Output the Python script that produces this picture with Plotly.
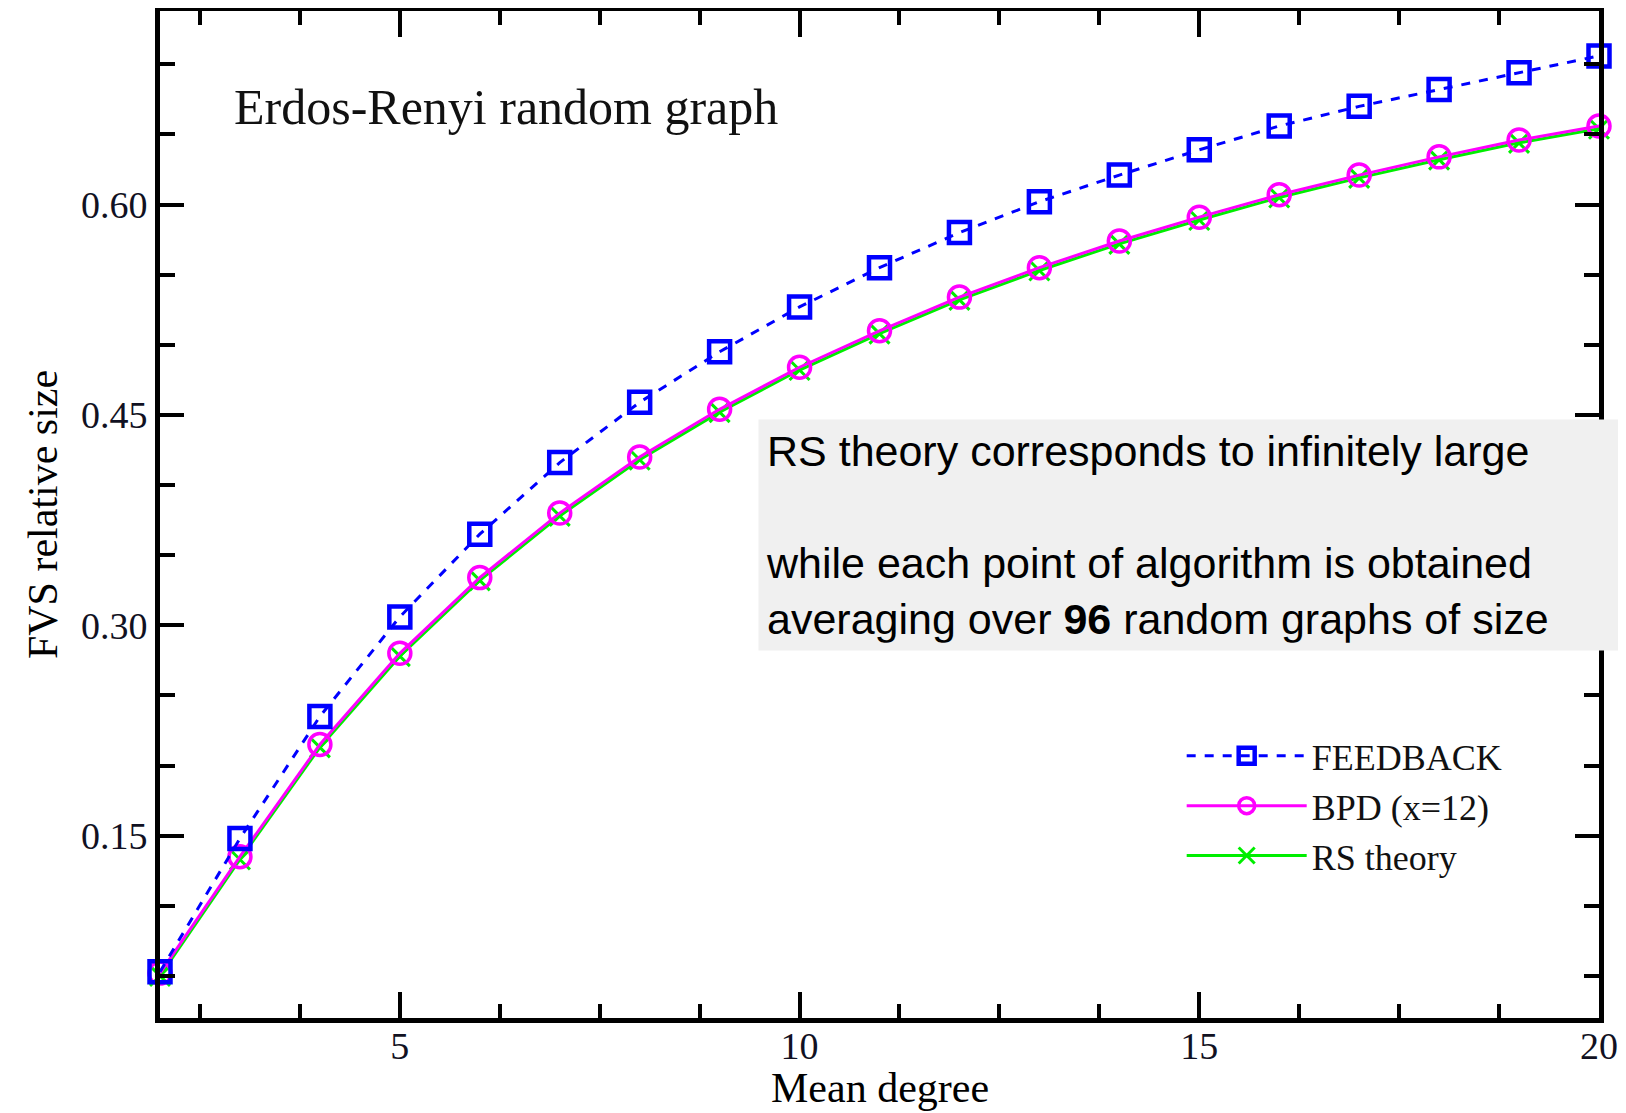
import plotly.graph_objects as go

mean_degree = [2, 3, 4, 5, 6, 7, 8, 9, 10, 11, 12, 13, 14, 15, 16, 17, 18, 19, 20]
feedback = [0.053, 0.148, 0.235, 0.306, 0.365, 0.416, 0.459, 0.495, 0.527, 0.555,
            0.580, 0.602, 0.621, 0.639, 0.656, 0.670, 0.682, 0.694, 0.706]
bpd = [0.052, 0.135, 0.215, 0.280, 0.334, 0.380, 0.420, 0.454, 0.484, 0.510,
       0.534, 0.555, 0.574, 0.591, 0.607, 0.621, 0.634, 0.646, 0.656]
rs_theory = [0.050, 0.133, 0.213, 0.278, 0.332, 0.378, 0.418, 0.452, 0.482, 0.508,
             0.532, 0.553, 0.572, 0.589, 0.605, 0.619, 0.632, 0.644, 0.654]

y_tickvals = [0.15, 0.30, 0.45, 0.60]
x_tickvals = [5, 10, 15, 20]

SERIF = "Liberation Serif"
SANS = "Liberation Sans"

W, H = 1618, 1105
ML, MR, MT, MB = 152, 27, 3, 95

fig = go.Figure()

fig.add_trace(go.Scatter(
    x=mean_degree, y=rs_theory, name="RS theory", mode="lines+markers",
    line=dict(color="#00ee00", width=3),
    marker=dict(symbol="x-thin-open", size=20, line=dict(color="#00ee00", width=3)),
    cliponaxis=False, legendrank=3,
))
fig.add_trace(go.Scatter(
    x=mean_degree, y=bpd, name="BPD (x=12)", mode="lines+markers",
    line=dict(color="#ff00ff", width=3),
    marker=dict(symbol="circle-open", size=22, line=dict(color="#ff00ff", width=3.5)),
    cliponaxis=False, legendrank=2,
))
fig.add_trace(go.Scatter(
    x=mean_degree, y=feedback, name="FEEDBACK", mode="lines+markers",
    line=dict(color="#0000ff", width=3, dash="dash"),
    marker=dict(symbol="square-open", size=21, line=dict(color="#0000ff", width=4.5)),
    cliponaxis=False, legendrank=1,
))

axis_common = dict(
    showline=True, linecolor="black", linewidth=5, mirror="ticks",
    ticks="inside", tickcolor="black", tickwidth=4,
    showgrid=False, zeroline=False, automargin=False,
    tickfont=dict(family=SERIF, size=38, color="#111122"),
)

fig.update_xaxes(
    range=[2, 20], tickvals=x_tickvals, ticklen=26, ticklabelstandoff=-10,
    minor=dict(ticks="inside", dtick=1.25, tick0=0, ticklen=14, tickwidth=4,
               tickcolor="black", showgrid=False),
    **axis_common,
)
fig.update_yaxes(
    range=[0.02, 0.738], tickvals=y_tickvals, tickformat=".2f", ticklen=24,
    minor=dict(ticks="inside", dtick=0.05, tick0=0, ticklen=15, tickwidth=4,
               tickcolor="black", showgrid=False),
    title=dict(text="FVS relative size", font=dict(family=SERIF, size=42, color="black"),
               standoff=12),
    **axis_common,
)

plot_h = H - MT - MB


def paper_y(fig_px):
    return 1 - (fig_px - MT) / plot_h


fig.add_annotation(
    xref="paper", yref="paper", x=0.5, y=paper_y(1105), xanchor="center", yanchor="bottom",
    text="Mean degree", showarrow=False,
    font=dict(family=SERIF, size=42, color="black"),
)

fig.add_annotation(
    xref="paper", yref="paper", x=0.05, y=0.905, xanchor="left", yanchor="middle",
    text="Erdos-Renyi random graph", showarrow=False,
    font=dict(family=SERIF, size=50, color="#111111"),
)

fig.add_annotation(
    xref="paper", yref="paper", x=0.4154, y=paper_y(411), xanchor="left", yanchor="top",
    text=("RS theory corresponds to infinitely large<br><br>"
          "while each point of algorithm is obtained<br>"
          "averaging over <b>96</b> random graphs of size"),
    showarrow=False, align="left", width=1000, borderpad=7,
    bgcolor="#f0f0f0",
    font=dict(family=SANS, size=43, color="black"),
)

fig.update_layout(
    template="none",
    width=W, height=H,
    margin=dict(l=ML, r=MR, t=MT, b=MB, autoexpand=False),
    paper_bgcolor="white", plot_bgcolor="white",
    showlegend=True,
    legend=dict(
        x=0.71, y=0.29, xanchor="left", yanchor="top",
        bgcolor="rgba(0,0,0,0)", borderwidth=0,
        font=dict(family=SERIF, size=36, color="#111111"),
        itemwidth=120, tracegroupgap=0,
    ),
)

fig.write_html("out.html")
